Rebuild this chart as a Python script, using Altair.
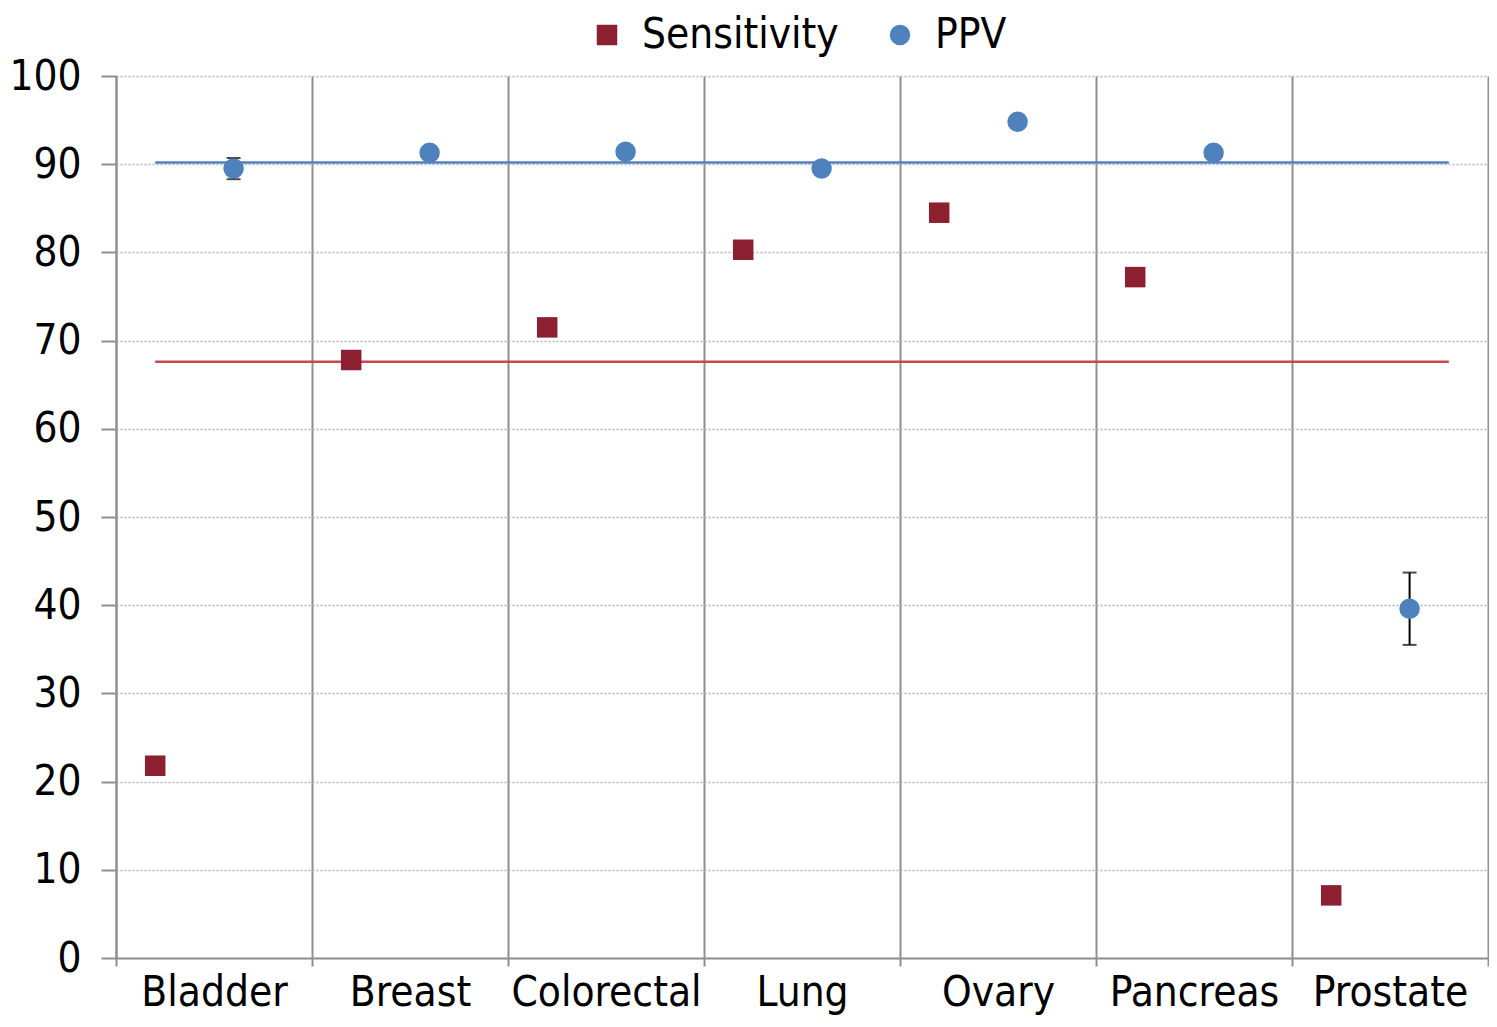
import altair as alt
import pandas as pd

categories = ["Bladder", "Breast", "Colorectal", "Lung", "Ovary", "Pancreas", "Prostate"]
sensitivity = [21.8, 67.8, 71.5, 80.3, 84.5, 77.2, 7.1]
ppv = [89.5, 91.3, 91.4, 89.5, 94.8, 91.3, 39.6]
ppv_low = [88.3, 91.3, 91.4, 89.5, 94.8, 91.3, 35.5]
ppv_high = [90.7, 91.3, 91.4, 89.5, 94.8, 91.3, 43.7]
series = ["Sensitivity", "PPV"]
series_offset = [0.2, 0.6]
mean_values = [67.6, 90.2]
y_ticks = list(range(0, 101, 10))

FONT = "Liberation Sans Narrow, Arial Narrow, DejaVu Sans Condensed, sans-serif"
FS = 42
W, H = 1372, 882

rows = []
for i, c in enumerate(categories):
    rows.append(dict(cat=c, idx=i, series=series[0], value=sensitivity[i],
                     low=sensitivity[i], high=sensitivity[i], off=series_offset[0]))
    rows.append(dict(cat=c, idx=i, series=series[1], value=ppv[i],
                     low=ppv_low[i], high=ppv_high[i], off=series_offset[1]))
df = pd.DataFrame(rows)
df["pos"] = df["idx"] + df["off"]

n = len(categories)
means = pd.DataFrame({
    "series": series,
    "mean": mean_values,
    "start": [series_offset[0]] * 2,
    "end": [n - series_offset[0]] * 2,
})

cat_js = "[" + ",".join("'" + c + "'" for c in categories) + "]"
xscale = alt.Scale(domain=[0, n], nice=False, zero=False)
xaxis = alt.Axis(
    values=[i * 0.5 for i in range(2 * n + 1)],
    labelExpr=f"datum.value % 1 ? {cat_js}[floor(datum.value)] : ''",
    title=None,
    grid=True,
    gridColor={"condition": {"test": "datum.value % 1 === 0", "value": "#8f8f8f"}, "value": "transparent"},
    gridWidth=2,
    tickColor={"condition": {"test": "datum.value % 1 === 0", "value": "#8f8f8f"}, "value": "transparent"},
    tickSize=8,
    tickWidth=2,
    domainColor="#8f8f8f",
    domainWidth=2,
    labelFontSize=FS,
    labelFont=FONT,
    labelColor="black",
    labelPadding=6,
    labelAngle=0,
    labelLimit=0,
    labelOverlap=False,
)
yscale = alt.Scale(domain=[0, 100], nice=False)
yaxis = alt.Axis(
    values=y_ticks,
    title=None,
    grid=True,
    gridDash=[2, 2],
    gridColor="#b4b4b4",
    gridWidth=1.5,
    tickSize=15,
    tickColor="#8f8f8f",
    tickWidth=2,
    domainColor="#8f8f8f",
    domainWidth=2,
    labelFontSize=FS,
    labelFont=FONT,
    labelColor="black",
    labelPadding=20,
)

legend = alt.Legend(
    title=" ",
    titleOrient="left",
    titlePadding=470,
    titleFontSize=10,
    orient="top",
    offset=20,
    direction="horizontal",
    labelFontSize=FS,
    labelFont=FONT,
    labelColor="black",
    labelLimit=400,
    symbolSize=420,
    symbolStrokeWidth=0,
    labelOffset=14,
    columnPadding=40,
    symbolOpacity=1,
)

base = alt.Chart(df)
mean_base = alt.Chart(means)

rule_sens = mean_base.transform_filter(alt.datum.series == series[0]).mark_rule(
    strokeWidth=2.5, color="#C8474B"
).encode(
    x=alt.X("start:Q", scale=xscale, axis=xaxis),
    x2="end:Q",
    y=alt.Y("mean:Q", scale=yscale, axis=yaxis),
)
rule_ppv = mean_base.transform_filter(alt.datum.series == series[1]).mark_rule(
    strokeWidth=2.5, color="#4F81BD"
).encode(
    x=alt.X("start:Q", scale=xscale),
    x2="end:Q",
    y=alt.Y("mean:Q", scale=yscale),
)

errs = base.transform_filter(alt.datum.series == series[1]).mark_errorbar(
    ticks=True, size=14, thickness=2, color="black"
).encode(
    x=alt.X("pos:Q", scale=xscale),
    y=alt.Y("low:Q", scale=yscale),
    y2="high:Q",
)

points = base.mark_point(filled=True, opacity=1, size=420).encode(
    x=alt.X("pos:Q", scale=xscale),
    y=alt.Y("value:Q", scale=yscale),
    color=alt.Color("series:N", scale=alt.Scale(domain=series, range=["#8C1F30", "#4F81BD"]),
                    legend=legend),
    shape=alt.Shape("series:N", scale=alt.Scale(domain=series, range=["square", "circle"]),
                    legend=legend),
)

chart = alt.layer(rule_sens, rule_ppv, errs, points).properties(
    width=W, height=H, padding={"left": 0, "top": 6, "right": 0, "bottom": 4},
    background="white",
).configure_view(stroke=None)

chart.save("out.html", embed_options={"renderer": "svg", "actions": False})
